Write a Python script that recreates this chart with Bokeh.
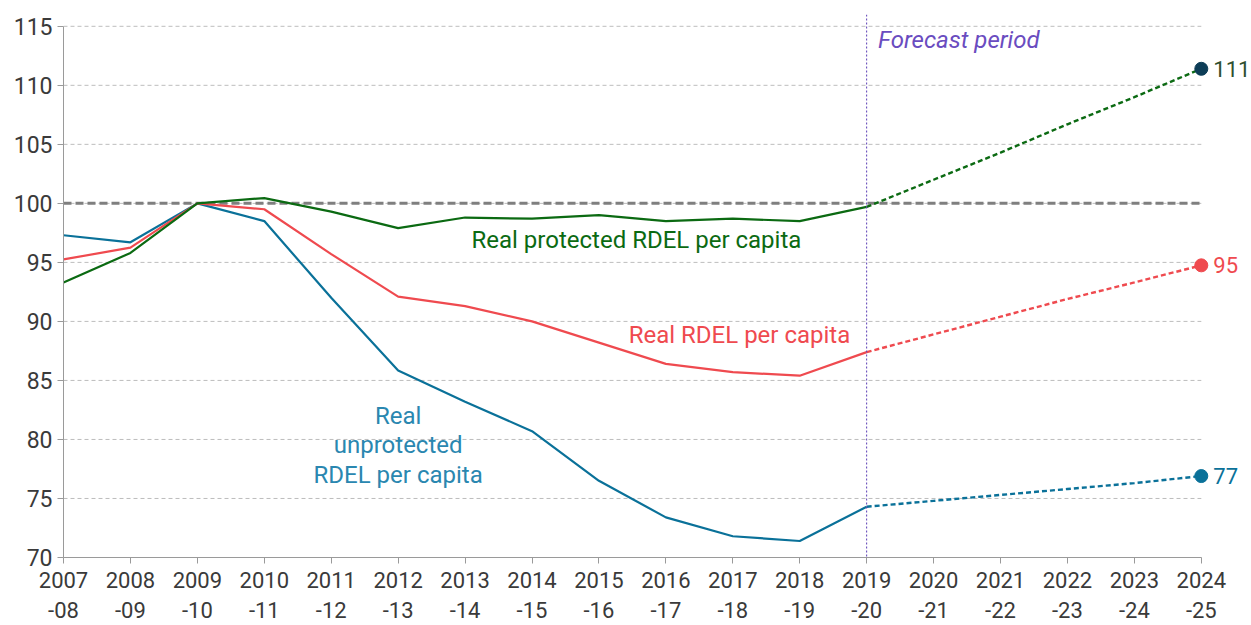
from bokeh.plotting import figure
from bokeh.models import FixedTicker, Span, Label, ColumnDataSource
from bokeh.core.properties import value
from bokeh.embed import file_html
from bokeh.resources import INLINE

# ---- data ----
year_labels = ["2007\n-08", "2008\n-09", "2009\n-10", "2010\n-11", "2011\n-12", "2012\n-13",
               "2013\n-14", "2014\n-15", "2015\n-16", "2016\n-17", "2017\n-18", "2018\n-19",
               "2019\n-20", "2020\n-21", "2021\n-22", "2022\n-23", "2023\n-24", "2024\n-25"]
hist_x = list(range(0, 13))
fc_x = list(range(12, 18))

protected = [93.3, 95.8, 100.0, 100.45, 99.3, 97.9, 98.8, 98.7, 99.0, 98.5, 98.7, 98.5, 99.7]
protected_fc = [99.7, 102.0, 104.3, 106.7, 109.0, 111.4]
rdel = [95.25, 96.25, 100.0, 99.5, 95.7, 92.1, 91.3, 90.0, 88.2, 86.4, 85.7, 85.4, 87.4]
rdel_fc = [87.4, 88.9, 90.4, 91.9, 93.3, 94.75]
unprot = [97.3, 96.7, 100.0, 98.5, 92.0, 85.85, 83.2, 80.7, 76.5, 73.4, 71.8, 71.4, 74.3]
unprot_fc = [74.3, 74.8, 75.3, 75.8, 76.3, 76.9]

y_ticks = [70, 75, 80, 85, 90, 95, 100, 105, 110, 115]
end_labels = ["111", "95", "77"]

GREEN = "#0b6a12"
RED = "#ef4a4f"
BLUE = "#0a7199"
FONT = "Roboto"

p = figure(width=1251, height=625, x_range=(0, 17.75), y_range=(70, 116),
           output_backend="svg", toolbar_location=None,
           min_border_left=63, min_border_right=0, min_border_top=14, min_border_bottom=68)
p.xgrid.visible = False
p.ygrid.visible = False
p.outline_line_color = None
p.background_fill_color = "white"

# gridlines (bounded to data span)
p.segment(x0=[0] * len(y_ticks), x1=[17] * len(y_ticks), y0=y_ticks, y1=y_ticks,
          line_color="#bdbdbd", line_width=1, line_dash="4 3")
# 100 baseline
p.segment(x0=[0], x1=[17], y0=[100], y1=[100], line_color="#7f7f7f", line_width=3, line_dash="8 4")

# forecast start line
p.add_layout(Span(location=12, dimension="height", line_color="#5a3db5", line_width=1, line_dash="2 2"))

# axes
p.xaxis.ticker = FixedTicker(ticks=list(range(18)))
p.xaxis.major_label_overrides = {i: lab for i, lab in enumerate(year_labels)}
p.xaxis.bounds = (0, 17)
p.yaxis.ticker = FixedTicker(ticks=y_ticks)
p.yaxis.bounds = (70, 115)
for ax in (p.xaxis[0], p.yaxis[0]):
    ax.axis_line_color = "#9a9a9a"
    ax.major_tick_line_color = "#9a9a9a"
    ax.major_tick_out = 6
    ax.major_tick_in = 0
    ax.minor_tick_line_color = None
    ax.major_label_text_font = FONT
    ax.major_label_text_color = "#3a3a3a"
p.xaxis.major_label_text_font_size = "22px"
p.yaxis.major_label_text_font_size = "23px"
p.xaxis.major_label_standoff = 4
p.yaxis.major_label_standoff = 5

# series
p.line(hist_x, unprot, line_color=BLUE, line_width=2.2)
p.line(fc_x, unprot_fc, line_color=BLUE, line_width=2.4, line_dash="5 3")
p.line(hist_x, rdel, line_color=RED, line_width=2.2)
p.line(fc_x, rdel_fc, line_color=RED, line_width=2.4, line_dash="5 3")
p.line(hist_x, protected, line_color=GREEN, line_width=2.2)
p.line(fc_x, protected_fc, line_color=GREEN, line_width=2.4, line_dash="5 3")

# end dots and labels
end_src = ColumnDataSource(dict(
    x=[17, 17, 17],
    y=[protected_fc[-1], rdel_fc[-1], unprot_fc[-1]],
    dot=["#0d3d57", RED, BLUE],
    txtc=["#2f4f2f", RED, BLUE],
    t=end_labels,
))
p.scatter("x", "y", source=end_src, size=13, fill_color="dot", line_color="dot")
p.text("x", "y", text="t", source=end_src, x_offset=12, text_color="txtc",
       text_font=value(FONT), text_font_size="22px", text_baseline="middle", text_align="left")

# series labels
p.add_layout(Label(x=8.56, y=96.9, text="Real protected RDEL per capita", text_color=GREEN,
                   text_font=FONT, text_font_size="24px", text_align="center", text_baseline="middle"))
p.add_layout(Label(x=10.1, y=88.85, text="Real RDEL per capita", text_color=RED,
                   text_font=FONT, text_font_size="24px", text_align="center", text_baseline="middle"))
for yy, t in zip([82.0, 79.5, 76.95], ["Real", "unprotected", "RDEL per capita"]):
    p.add_layout(Label(x=5.0, y=yy, text=t, text_color="#2a87b0",
                       text_font=FONT, text_font_size="24px", text_align="center", text_baseline="middle"))
p.add_layout(Label(x=12.17, y=113.8, text="Forecast period", text_color="#6a4cc0",
                   text_font=FONT, text_font_style="italic", text_font_size="24px",
                   text_align="left", text_baseline="middle"))

open("out.html", "w").write(file_html(p, INLINE))
